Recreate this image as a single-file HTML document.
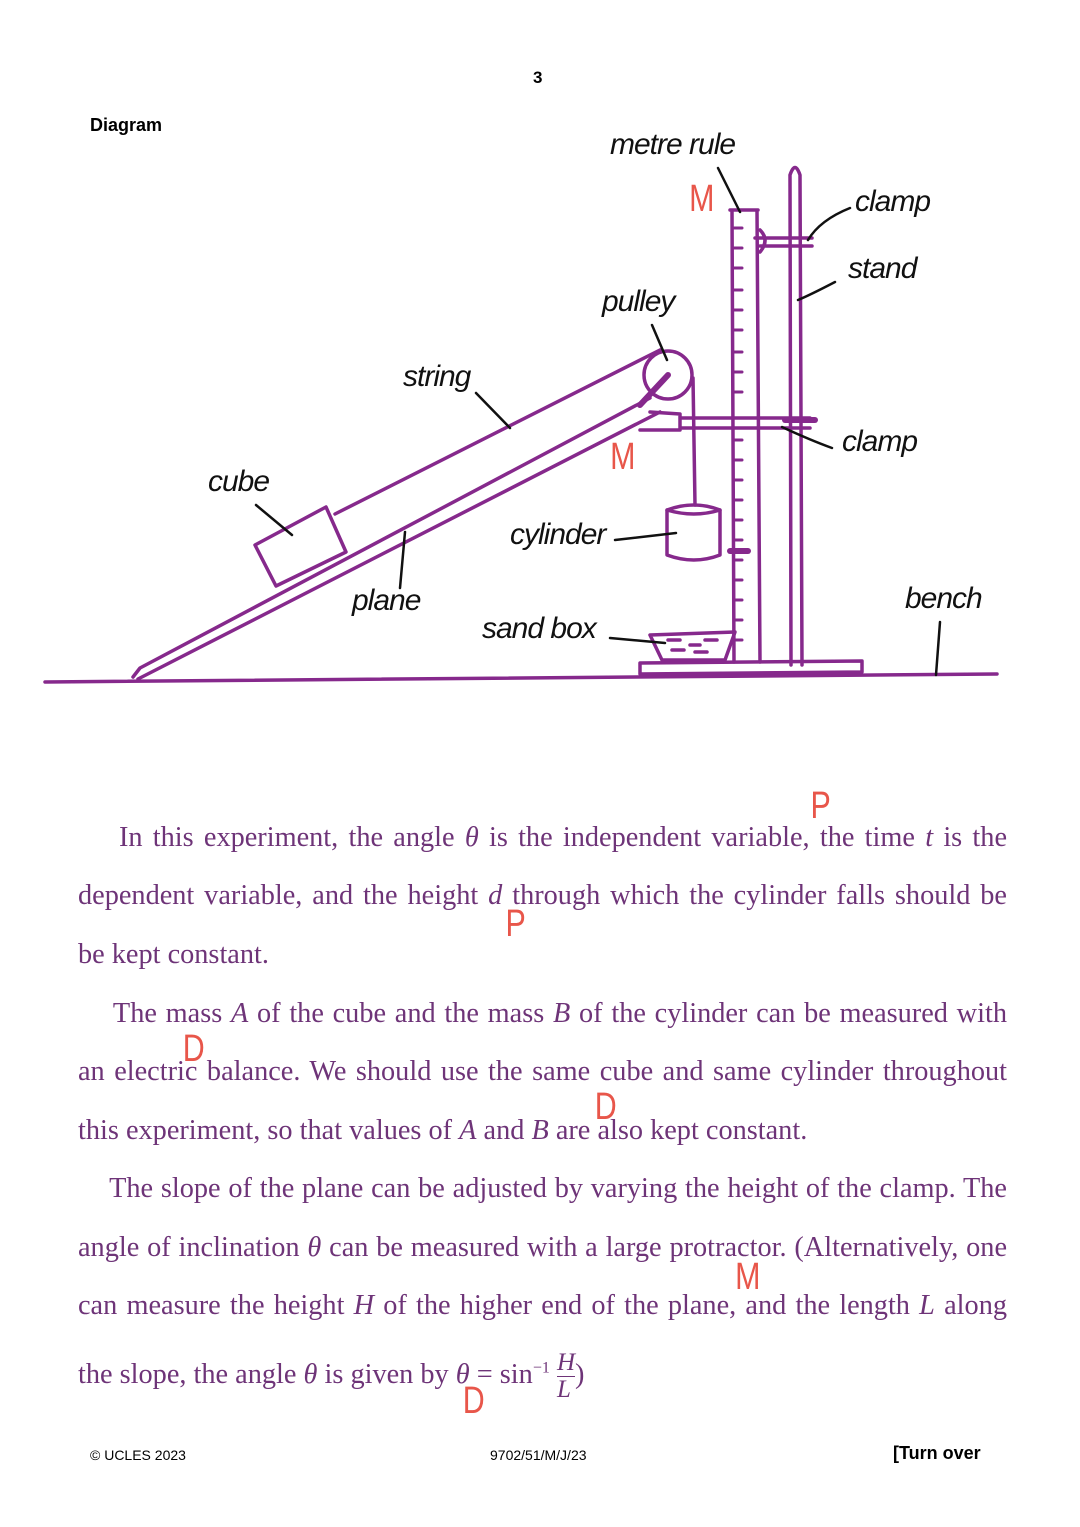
<!DOCTYPE html>
<html><head><meta charset="utf-8"><style>
body{margin:0;width:1080px;height:1527px;background:#fff;position:relative;overflow:hidden;font-family:"Liberation Sans",sans-serif}
.a{position:absolute;white-space:nowrap}
.l{position:absolute;left:78px;width:929px;font-family:"Liberation Serif",serif;font-size:28.3px;color:#6e3478;text-align:justify;text-align-last:justify;white-space:nowrap;line-height:30px}
.l.n{text-align-last:left}
.r{position:absolute;color:#e8564a;font-family:"Liberation Sans",sans-serif;font-size:38px;font-weight:300;line-height:1;transform:scaleX(0.8)}
.h{position:absolute;font-family:"Liberation Sans",sans-serif;font-style:italic;font-size:30px;color:#111;white-space:nowrap;letter-spacing:-1px}
</style></head><body>
<div class="a" style="left:533px;top:68px;font-size:17px;font-weight:bold">3</div>
<div class="a" style="left:90px;top:115px;font-size:18px;font-weight:bold">Diagram</div>

<svg class="a" style="left:0;top:0" width="1080" height="720">
<g fill="none" stroke="#86298c" stroke-width="3.5" stroke-linecap="round" stroke-linejoin="round">
<path d="M45 682 L997 674"/>
<path d="M133 677 L140 668 L650 398"/>
<path d="M138 679 L660 412"/>
<path d="M335 514 L660 350"/>
<path d="M255 545 L326 507 L346 552 L276 586 Z"/>
<circle cx="668" cy="375" r="24"/>
<path d="M668 375 L640 405" stroke-width="6"/>
<path d="M693 378 L695 505"/>
<path d="M667 510 Q694 500 720 510 L720 555 Q694 565 667 555 Z"/>
<path d="M667 510 Q694 518 720 510"/>
<path d="M730 210 L758 210 M732 210 L734 662 M757 210 L760 662"/>
<g stroke-width="3">
<path d="M734 228h8M734 248h8M734 268h8M734 290h8M734 310h8M734 330h8M734 352h8M734 372h8M734 392h8M734 440h8M734 460h8M734 480h8M734 500h8M734 520h8M734 540h8M734 560h8M734 580h8M734 600h8M734 620h8M734 640h8"/>
</g>
<path d="M730 551 L748 551" stroke-width="6"/>
<path d="M790 175 Q795 160 800 175 L802 665 M790 175 L791 665"/>
<path d="M640 663 L862 661 L862 672 L640 674 Z"/>
<path d="M680 418 L810 418 M680 428 L810 428 M650 412 L680 414 L680 430 L640 430"/>
<path d="M785 420 L815 420" stroke-width="6"/>
<path d="M755 238 L812 238 M760 246 L812 246 M760 230 Q770 240 760 252"/>
<path d="M650 635 L735 632 L725 660 L662 660 Z"/>
<path d="M668 640h12M690 645h10M705 640h12M672 650h12M695 652h12"/>
</g>
<g fill="none" stroke="#111" stroke-width="2.5" stroke-linecap="round">
<path d="M718 168 L740 212"/>
<path d="M850 208 Q820 220 808 240"/>
<path d="M835 282 Q810 295 798 300"/>
<path d="M652 325 L667 360"/>
<path d="M476 393 L510 428"/>
<path d="M832 448 Q810 440 782 427"/>
<path d="M256 505 L292 535"/>
<path d="M405 532 L400 588"/>
<path d="M615 540 L676 533"/>
<path d="M610 638 L665 643"/>
<path d="M940 622 L936 675"/>
</g>
</svg>

<div class="h" style="left:610px;top:128px">metre rule</div>
<div class="h" style="left:855px;top:185px">clamp</div>
<div class="h" style="left:848px;top:252px">stand</div>
<div class="h" style="left:602px;top:285px">pulley</div>
<div class="h" style="left:403px;top:360px">string</div>
<div class="h" style="left:842px;top:425px">clamp</div>
<div class="h" style="left:208px;top:465px">cube</div>
<div class="h" style="left:510px;top:518px">cylinder</div>
<div class="h" style="left:352px;top:584px">plane</div>
<div class="h" style="left:482px;top:612px">sand box</div>
<div class="h" style="left:905px;top:582px">bench</div>
<div class="r" style="left:686px;top:180px">M</div>
<div class="r" style="left:607px;top:438px">M</div>

<div class="l" style="top:823px">&nbsp;&nbsp;&nbsp;&nbsp;In this experiment, the angle <i>θ</i> is the independent variable, the time <i>t</i> is the</div>
<div class="l" style="top:881px">dependent variable, and the height <i>d</i> through which the cylinder falls should be</div>
<div class="l n" style="top:940px">be kept constant.</div>
<div class="l" style="top:999px">&nbsp;&nbsp;&nbsp;&nbsp;The mass <i>A</i> of the cube and the mass <i>B</i> of the cylinder can be measured with</div>
<div class="l" style="top:1057px">an electric balance. We should use the same cube and same cylinder throughout</div>
<div class="l n" style="top:1116px">this experiment, so that values of <i>A</i> and <i>B</i> are also kept constant.</div>
<div class="l" style="top:1174px">&nbsp;&nbsp;&nbsp;&nbsp;The slope of the plane can be adjusted by varying the height of the clamp. The</div>
<div class="l" style="top:1233px">angle of inclination <i>θ</i> can be measured with a large protractor. (Alternatively, one</div>
<div class="l" style="top:1291px">can measure the height <i>H</i> of the higher end of the plane, and the length <i>L</i> along</div>
<div class="l n" style="top:1350px">the slope, the angle <i>θ</i> is given by <i>θ</i> = sin<sup style="font-size:16px">−1</sup> <span style="display:inline-block;vertical-align:middle;text-align:center;font-size:25px;line-height:26px"><i>H</i><br><span style="border-top:1px solid #6e3478;display:block"><i>L</i></span></span>)</div>

<div class="r" style="left:808px;top:787px">P</div>
<div class="r" style="left:503px;top:905px">P</div>
<div class="r" style="left:180px;top:1030px">D</div>
<div class="r" style="left:592px;top:1088px">D</div>
<div class="r" style="left:732px;top:1258px">M</div>
<div class="r" style="left:460px;top:1382px">D</div>

<div class="a" style="left:90px;top:1447px;font-size:14px">© UCLES 2023</div>
<div class="a" style="left:490px;top:1447px;font-size:14px">9702/51/M/J/23</div>
<div class="a" style="left:893px;top:1443px;font-size:18px;font-weight:bold">[Turn over</div>
</body></html>
